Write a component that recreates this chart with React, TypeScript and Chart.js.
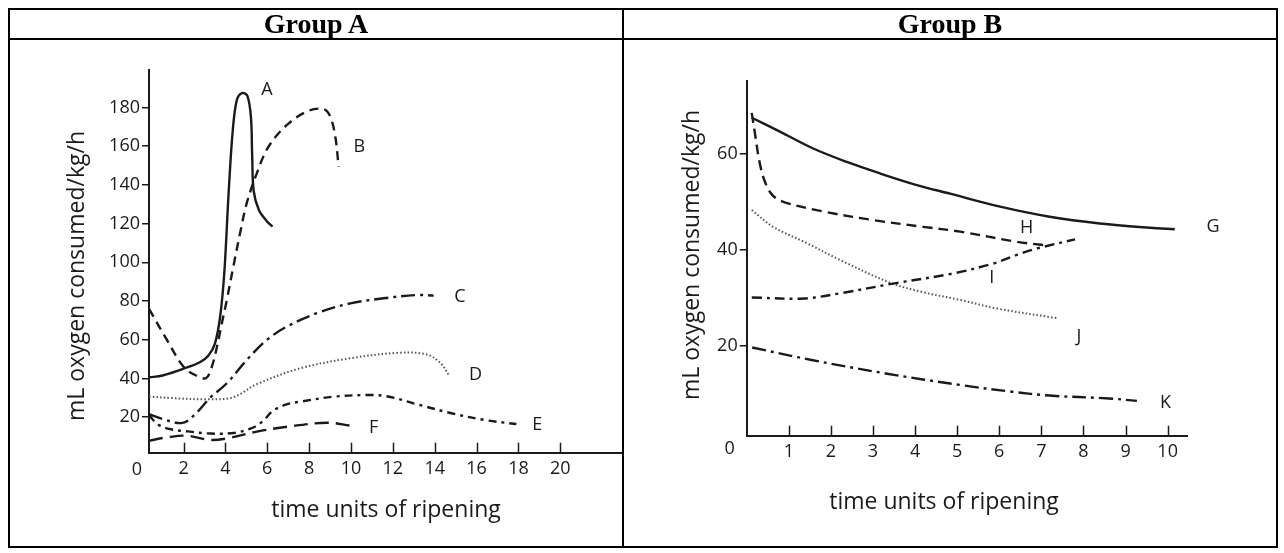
import React, { useEffect, useRef } from 'react';
import { Chart, registerables } from 'chart.js';

Chart.register(...registerables);

type Pt = [number, number];

// ---------------- Group A ----------------
const A_X_TICKS = [2, 4, 6, 8, 10, 12, 14, 16, 18, 20];
const A_Y_TICKS = [20, 40, 60, 80, 100, 120, 140, 160, 180];
const A_X_MIN = 0.35;
const A_X_MAX = 22.9;
const A_Y_MIN = 1.6;
const A_Y_MAX = 199.4;

const curveA: Pt[] = [
  [0.35, 40.5], [1.0, 41.5], [2.0, 45], [2.8, 48.5], [3.2, 52], [3.5, 58], [3.75, 72],
  [3.95, 95], [4.15, 135], [4.35, 168], [4.55, 184], [4.8, 187.5], [5.05, 186],
  [5.22, 175], [5.28, 155], [5.35, 137], [5.6, 127], [6.0, 121], [6.25, 118.5],
];
const curveB: Pt[] = [
  [0.35, 76], [1.2, 60], [2.0, 46], [2.6, 41.5], [3.08, 40.2], [3.35, 46], [3.59, 56],
  [3.83, 68.5], [4.07, 80.6], [4.38, 97.8], [4.7, 115], [5.02, 130.6], [5.5, 146],
  [6.06, 159.8], [6.94, 171], [7.9, 178], [8.69, 179.2], [9.01, 175.3], [9.25, 165], [9.41, 149.5],
];
const curveC: Pt[] = [
  [0.35, 21.5], [1.0, 19], [1.95, 17], [2.6, 22], [3.27, 30], [4.07, 37.5], [5.02, 49.5],
  [5.98, 59.9], [6.94, 66.8], [8.37, 73.7], [9.97, 78.8], [11.56, 81.4], [13.16, 83.1], [13.95, 82.8],
];
const curveD: Pt[] = [
  [0.35, 30.6], [1.5, 29.8], [3.27, 29.2], [4.38, 30.3], [5.5, 37], [7.57, 45.2],
  [9.97, 50.4], [12.36, 53.3], [13.64, 52.3], [14.27, 48], [14.67, 41.8],
];
const curveE: Pt[] = [
  [0.35, 21], [0.8, 16], [1.4, 13.7], [2.2, 12.6], [3.3, 11.5], [4.4, 11.8], [5.3, 14.5],
  [5.8, 18], [6.3, 23.5], [7.0, 26.8], [7.6, 28], [9.2, 30.6], [10.8, 31.4], [11.7, 30.8],
  [13.2, 26.5], [14.8, 22], [16.4, 18.5], [17.9, 16.4],
];
const curveF: Pt[] = [
  [0.35, 7.8], [1.2, 9.5], [2.16, 10.4], [3.27, 8.2], [4.07, 9], [5.5, 12.5],
  [6.94, 15], [8.85, 17.1], [9.97, 15.6],
];
const A_LABELS = ['A', 'B', 'C', 'D', 'E', 'F'];
const A_LABEL_ANCHORS: Pt[] = [
  [5.98, 189.1], [10.4, 159.5], [15.2, 82], [15.95, 41.8], [18.9, 15.9], [11.08, 14.2],
];

// ---------------- Group B ----------------
const B_X_TICKS = [1, 2, 3, 4, 5, 6, 7, 8, 9, 10];
const B_Y_TICKS = [20, 40, 60];
const B_X_MIN = 0;
const B_X_MAX = 10.46;
const B_Y_MIN = 1.35;
const B_Y_MAX = 75.2;

const curveG: Pt[] = [
  [0.12, 67.5], [0.79, 64.6], [1.58, 61.1], [2.38, 58.3], [3.17, 55.9], [4.0, 53.6],
  [4.83, 51.7], [6.02, 49], [7.2, 46.9], [8.39, 45.5], [9.58, 44.6], [10.17, 44.3],
];
const curveH: Pt[] = [
  [0.12, 68.5], [0.2, 64], [0.3, 58.5], [0.42, 54.5], [0.6, 51.5], [0.87, 50], [1.82, 48],
  [3.01, 46.2], [4.19, 44.8], [5.07, 43.8], [6.41, 41.7], [7.05, 41],
];
const curveI: Pt[] = [
  [0.12, 30.1], [1.36, 29.9], [2.24, 31], [3.48, 33], [4.9, 35.1], [5.87, 37.2],
  [6.4, 38.9], [6.9, 40.3], [7.8, 42.2],
];
const curveJ: Pt[] = [
  [0.12, 48.3], [0.63, 44.8], [1.43, 41.4], [2.22, 37.9], [3.4, 33.2], [4.19, 31.2],
  [5.07, 29.6], [5.95, 27.8], [7.37, 25.8],
];
const curveK: Pt[] = [
  [0.13, 19.7], [1.54, 17.1], [3.3, 14.3], [5.07, 11.9], [6.3, 10.5], [7.19, 9.7],
  [8.6, 9.1], [9.27, 8.6],
];
const B_LABELS = ['G', 'H', 'I', 'J', 'K'];
const B_LABEL_ANCHORS: Pt[] = [
  [11.08, 44.8], [6.65, 44.5], [5.82, 34.1], [7.89, 21.9], [9.95, 8.1],
];

const X_TITLE = 'time units of ripening';
const Y_TITLE = 'mL oxygen consumed/kg/h';

const INK = '#1a1a1a';
const FONT = '"Open Sans", "Noto Sans", sans-serif';

const toXY = (pts: Pt[]) => pts.map(([x, y]) => ({ x, y }));

function ds(pts: Pt[], dash: number[], width = 2.4, color = INK) {
  return {
    data: toXY(pts),
    borderColor: color,
    borderWidth: width,
    borderDash: dash,
    pointRadius: 0,
    tension: 0.35,
    fill: false,
  };
}

const decorPlugin = {
  id: 'decor',
  afterDraw(chart: any, _args: any, o: any) {
    const { ctx, chartArea, scales } = chart;
    const xs = scales.x;
    const ys = scales.y;
    ctx.save();
    ctx.strokeStyle = INK;
    ctx.lineWidth = 1.5;
    for (const v of o.xTicks) {
      const px = Math.round(xs.getPixelForValue(v)) + 0.5;
      ctx.beginPath();
      ctx.moveTo(px, chartArea.bottom);
      ctx.lineTo(px, chartArea.bottom - o.tickLen);
      ctx.stroke();
    }
    ctx.fillStyle = INK;
    ctx.textAlign = 'center';
    ctx.textBaseline = 'middle';
    ctx.font = `${o.labelSize}px ${FONT}`;
    o.labels.forEach((t: string, i: number) => {
      const [lx, ly] = o.anchors[i];
      ctx.fillText(t, xs.getPixelForValue(lx), ys.getPixelForValue(ly));
    });
    ctx.font = `${o.tickSize}px ${FONT}`;
    ctx.fillText('0', chartArea.left + o.zeroDx, chartArea.bottom + o.zeroDy);
    ctx.font = `${o.titleSize}px ${FONT}`;
    ctx.fillText(X_TITLE, o.xTitle[0], o.xTitle[1]);
    ctx.translate(o.yTitle[0], o.yTitle[1]);
    ctx.rotate(-Math.PI / 2);
    ctx.fillText(Y_TITLE, 0, 0);
    ctx.restore();
  },
};

function makeConfig(p: any) {
  return {
    type: 'line',
    data: { datasets: p.datasets },
    plugins: [decorPlugin],
    options: {
      animation: false,
      responsive: false,
      maintainAspectRatio: false,
      events: [],
      layout: { padding: p.padding },
      plugins: {
        legend: { display: false },
        tooltip: { enabled: false },
        title: { display: false },
        decor: p.decor,
      },
      scales: {
        x: {
          type: 'linear',
          min: p.xMin,
          max: p.xMax,
          afterBuildTicks: (s: any) => { s.ticks = p.xTicks.map((v: number) => ({ value: v })); },
          afterFit: (s: any) => { s.height = 40; },
          grid: { display: true, drawOnChartArea: false, drawTicks: false },
          border: { display: true, color: INK, width: 2 },
          ticks: {
            color: INK,
            padding: 5,
            maxRotation: 0,
            autoSkip: false,
            font: { family: FONT, size: 18 },
            callback: (v: any) => String(v),
          },
        },
        y: {
          type: 'linear',
          min: p.yMin,
          max: p.yMax,
          afterBuildTicks: (s: any) => { s.ticks = p.yTicks.map((v: number) => ({ value: v })); },
          afterFit: (s: any) => { s.width = 60; },
          grid: { display: true, drawOnChartArea: false, drawTicks: true, tickLength: 7, color: INK, lineWidth: 1.5 },
          border: { display: true, color: INK, width: 2 },
          ticks: {
            color: INK,
            padding: 2,
            autoSkip: false,
            font: { family: FONT, size: 18 },
            callback: (v: any) => String(v),
          },
        },
      },
    },
  };
}

const W = 1284;
const H = 553;

function ChartCanvas({ config }: { config: any }) {
  const ref = useRef<HTMLCanvasElement | null>(null);
  useEffect(() => {
    if (!ref.current) return;
    const chart = new Chart(ref.current, config);
    return () => chart.destroy();
  }, [config]);
  return (
    <canvas
      ref={ref}
      width={W}
      height={H}
      style={{ position: 'absolute', left: 0, top: 0, width: W, height: H }}
    />
  );
}

const configA = makeConfig({
  xMin: A_X_MIN, xMax: A_X_MAX, yMin: A_Y_MIN, yMax: A_Y_MAX,
  xTicks: A_X_TICKS, yTicks: A_Y_TICKS,
  padding: { left: 149 - 60, right: W - 621, top: 70, bottom: H - 452.7 - 40 },
  datasets: [
    ds(curveA, []),
    ds(curveB, [9, 6]),
    ds(curveC, [14, 5, 3, 5]),
    ds(curveD, [1.5, 2.2], 2, '#555'),
    ds(curveE, [8, 5, 3, 5]),
    ds(curveF, [14, 7]),
  ],
  decor: {
    xTicks: A_X_TICKS, tickLen: 10, labels: A_LABELS, anchors: A_LABEL_ANCHORS,
    labelSize: 18, tickSize: 18, titleSize: 23, zeroDx: -12, zeroDy: 17,
    xTitle: [386, 510], yTitle: [77, 276],
  },
});

const configB = makeConfig({
  xMin: B_X_MIN, xMax: B_X_MAX, yMin: B_Y_MIN, yMax: B_Y_MAX,
  xTicks: B_X_TICKS, yTicks: B_Y_TICKS,
  padding: { left: 746.7 - 60, right: W - 1187, top: 80.7, bottom: H - 435.7 - 40 },
  datasets: [
    ds(curveG, []),
    ds(curveH, [10, 6]),
    ds(curveI, [10, 5, 3, 5]),
    ds(curveJ, [1.5, 2.2], 2, '#555'),
    ds(curveK, [14, 5, 3, 5]),
  ],
  decor: {
    xTicks: B_X_TICKS, tickLen: 10, labels: B_LABELS, anchors: B_LABEL_ANCHORS,
    labelSize: 18, tickSize: 18, titleSize: 23, zeroDx: -17, zeroDy: 13,
    xTitle: [944, 502], yTitle: [692, 255],
  },
});

const line = (left: number, top: number, width: number, height: number) => (
  <div style={{ position: 'absolute', left, top, width, height, background: '#000' }} />
);

const headerStyle = (left: number, width: number) => ({
  position: 'absolute' as const,
  left,
  top: 10,
  width,
  height: 28,
  display: 'flex',
  alignItems: 'center',
  justifyContent: 'center',
  font: 'bold 28px "Liberation Serif", "Times New Roman", serif',
  color: '#000',
});

export default function App() {
  return (
    <div style={{ position: 'absolute', left: 0, top: 0, width: W, height: H, background: '#fff', overflow: 'hidden' }}>
      <ChartCanvas config={configA} />
      <ChartCanvas config={configB} />
      {line(8, 8, 1270, 2)}
      {line(8, 38, 1270, 2)}
      {line(8, 546, 1270, 2)}
      {line(8, 8, 2, 540)}
      {line(1276, 8, 2, 540)}
      {line(622, 8, 2, 540)}
      <div style={headerStyle(10, 612)}>Group A</div>
      <div style={headerStyle(624, 652)}>Group B</div>
    </div>
  );
}
